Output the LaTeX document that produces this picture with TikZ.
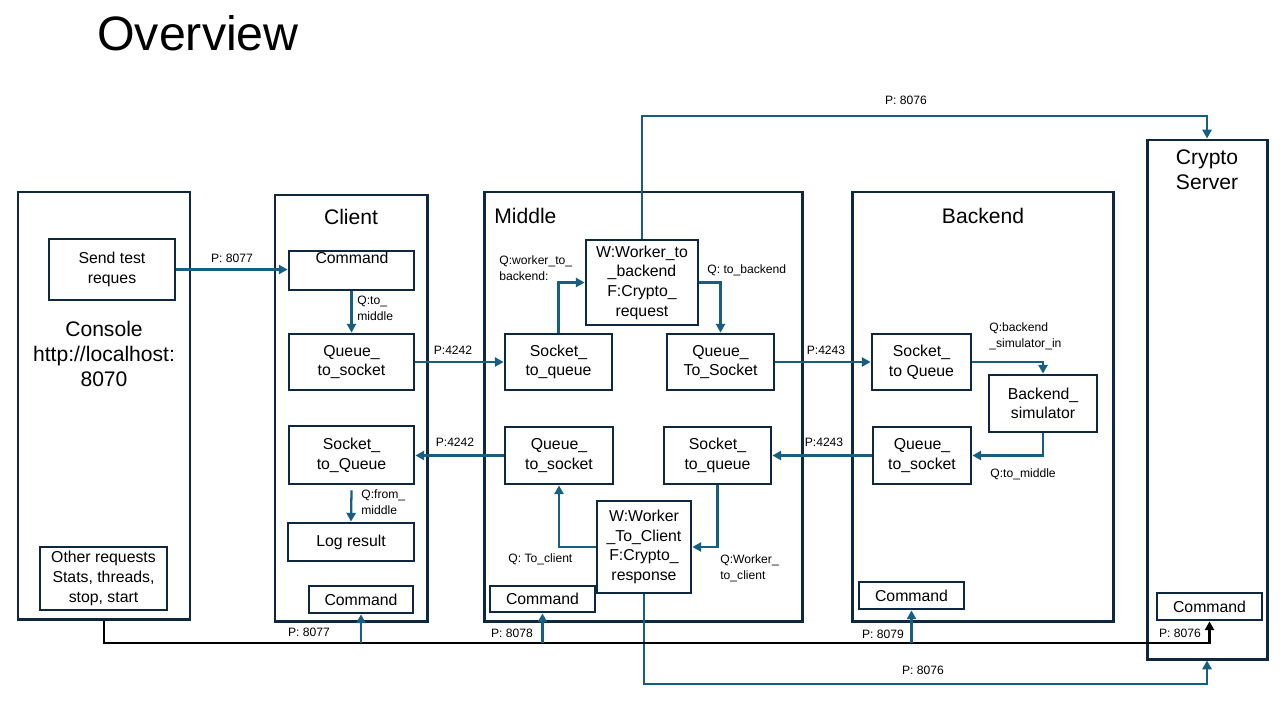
\documentclass[tikz,border=0pt]{standalone}
\usepackage{fontspec}
\setmainfont{Liberation Sans}
\usetikzlibrary{fit,arrows.meta}
\definecolor{outl}{HTML}{0E2841}
\definecolor{arr}{HTML}{156082}
\begin{document}
\begin{tikzpicture}[x=0.02cm,y=-0.02cm,
 box/.style={draw=outl,line width=1.6pt,inner sep=0pt},
 btxt/.style={align=center,inner sep=0pt,font=\fontsize{9}{11.2}\selectfont},
 outer/.style={draw=outl,line width=1.7pt,inner sep=0pt},
 sect/.style={font=\fontsize{12}{14.3}\selectfont,align=center,inner sep=0pt},
 lbl/.style={font=\fontsize{6.9}{9}\selectfont,align=left,inner sep=0pt},
 conn/.style={draw=arr,line width=1.3pt,-{Triangle[length=5pt,width=5.2pt]}},
 bus/.style={draw=black,line width=1.4pt,-{Triangle[length=5pt,width=5.2pt]}}
]
\fill[white] (0,0) rectangle (1280,720);
\useasboundingbox (0,0) rectangle (1280,720);

\node[font=\fontsize{27.5}{32}\selectfont] (title) at (198,33) {Overview};

% Console
\node[outer, fit={(18,192) (190,619)}] (con) {};
\node[sect] (contxt) at (104,354) {Console\\http://localhost:\\8070};
\node[box, fit={(49,239) (175,300)}] (send) {};
\node[btxt] (sendt) at (send.center) {Send test\\reques};
\node[box, fit={(40,547) (167,610)}] (other) {};
\node[btxt] (othert) at (other.center) {Other requests\\Stats, threads,\\stop, start};

% Client
\node[outer, fit={(275,195) (427,621)}] (cli) {};
\node[sect] (clitxt) at (351,217) {Client};
\node[box, fit={(289,251) (414,290)}] (ccmd1) {};
\node[btxt] (ccmd1t) at (352,258) {Command};
\node[box, fit={(289,334) (414,390)}] (cq) {};
\node[btxt] (cqt) at (cq.center) {Queue\_\\to\_socket};
\node[box, fit={(289,426) (414,484)}] (csq) {};
\node[btxt] (csqt) at (csq.center) {Socket\_\\to\_Queue};
\node[box, fit={(288,523) (414,561)}] (log) {};
\node[btxt] (logt) at (log.center) {Log result};
\node[box, fit={(309,586) (413,613)}] (ccmd) {};
\node[btxt] (ccmdt) at (ccmd.center) {Command};

% Middle
\node[outer, fit={(484,192) (802,621)}] (mid) {};
\node[sect, anchor=west] (midtxt) at (494,216) {Middle};
\node[box, fit={(586,240) (698,325)}] (ww) {};
\node[btxt] (wwt) at (ww.center) {W:Worker\_to\\\_backend\\F:Crypto\_\\request};
\node[box, fit={(505,334) (612,390)}] (msq) {};
\node[btxt] (msqt) at (msq.center) {Socket\_\\to\_queue};
\node[box, fit={(667,334) (774,390)}] (mqs) {};
\node[btxt] (mqst) at (mqs.center) {Queue\_\\To\_Socket};
\node[box, fit={(505,427) (613,484)}] (mqs2) {};
\node[btxt] (mqs2t) at (mqs2.center) {Queue\_\\to\_socket};
\node[box, fit={(664,427) (771,484)}] (msq2) {};
\node[btxt] (msq2t) at (msq2.center) {Socket\_\\to\_queue};
\node[box, fit={(597,501) (691,593)}] (wc) {};
\node[btxt] (wct) at (wc.center) {W:Worker\\\_To\_Client\\F:Crypto\_\\response};
\node[box, fit={(490,586) (595,612)}] (mcmd) {};
\node[btxt] (mcmdt) at (mcmd.center) {Command};

% Backend
\node[outer, fit={(852,192) (1113,621)}] (be) {};
\node[sect] (betxt) at (983,216) {Backend};
\node[box, fit={(872,334) (971,390)}] (bsq) {};
\node[btxt] (bsqt) at (bsq.center) {Socket\_\\to Queue};
\node[box, fit={(989,375) (1097,432)}] (bsim) {};
\node[btxt] (bsimt) at (bsim.center) {Backend\_\\simulator};
\node[box, fit={(873,427) (971,484)}] (bqs) {};
\node[btxt] (bqst) at (bqs.center) {Queue\_\\to\_socket};
\node[box, fit={(859,582) (964,609)}] (bcmd) {};
\node[btxt] (bcmdt) at (bcmd.center) {Command};

% Crypto server
\node[outer, fit={(1147,140) (1267,659)}] (cs) {};
\node[sect] (cstxt) at (1207,170) {Crypto\\Server};
\node[box, fit={(1157,593) (1262,620)}] (csc) {};
\node[btxt] (csct) at (csc.center) {Command};

% connectors
\draw[conn] (send.east) -- (send.east -| ccmd1.west);
\node[lbl] (l1) at (232,258) {P: 8077};
\draw[conn] (ccmd1.south) -- (cq.north);
\node[lbl, anchor=west] (l2) at (357,308) {Q:to\_\\middle};
\draw[conn] ([yshift=-0.1cm]csq.south) -- (log.north);
\node[lbl, anchor=west] (l3) at (361,502) {Q:from\_\\middle};

\draw[conn] (cq.east) -- (msq.west);
\node[lbl] (l4) at (453,350) {P:4242};
\draw[conn] (mqs2.west) -- (mqs2.west -| csq.east);
\node[lbl] (l5) at (455,442) {P:4242};
\draw[conn] (mqs.east) -- (mqs.east -| bsq.west);
\node[lbl] (l6) at (826,350) {P:4243};
\draw[conn] (bqs.west) -- (bqs.west -| msq2.east);
\node[lbl] (l7) at (824,442) {P:4243};

\draw[conn] (msq.north) |- (ww.west);
\node[lbl, anchor=west] (l8) at (499,268) {Q:worker\_to\_\\backend:};
\draw[conn] (ww.east) -| (mqs.north);
\node[lbl, anchor=west] (l9) at (707,270) {Q: to\_backend};
\draw[conn] (msq2.south) |- (wc.east);
\node[lbl, anchor=west] (l10) at (720,568) {Q:Worker\_\\to\_client};
\draw[conn] (wc.west) -| (mqs2.south);
\node[lbl, anchor=west] (l11) at (508,559) {Q: To\_client};

\coordinate (topc) at (642,116);
\draw[conn] (ww.north) -- (ww.north |- topc) -| (cs.north);
\node[lbl] (l12) at (906,100) {P: 8076};
\coordinate (botc) at (644,684);
\draw[conn] (wc.south) -- (wc.south |- botc) -| (cs.south);
\node[lbl] (l13) at (923,670) {P: 8076};

\draw[conn] (bsq.east) -| (bsim.north);
\node[lbl, anchor=west] (l14) at (989,336) {Q:backend\\\_simulator\_in};
\draw[conn] (bsim.south) |- (bqs.east);
\node[lbl, anchor=west] (l15) at (990,474) {Q:to\_middle};

% command bus
\coordinate (busy) at (104,643);
\draw[bus] (con.south) -- (con.south |- busy) -| (csc.south);
\node[lbl] (l16) at (1180,633) {P: 8076};
\draw[conn] (ccmd.south |- busy) -- (ccmd.south);
\node[lbl] (l17) at (309,632) {P: 8077};
\draw[conn] (mcmd.south |- busy) -- (mcmd.south);
\node[lbl] (l18) at (512,633) {P: 8078};
\draw[conn] (bcmd.south |- busy) -- (bcmd.south);
\node[lbl] (l19) at (883,634) {P: 8079};
\end{tikzpicture}
\end{document}
